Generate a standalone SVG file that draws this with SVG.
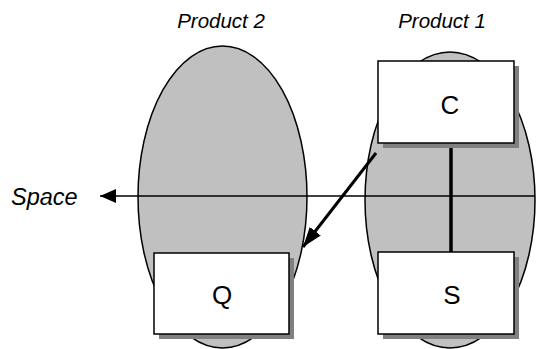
<svg xmlns="http://www.w3.org/2000/svg" width="536" height="349" viewBox="0 0 536 349">
  <style>
    .blob { fill: #c0c0c0; stroke: #000; stroke-width: 1.5; }
    .box { fill: #fff; stroke: #000; stroke-width: 1.5; }
    .shadow { fill: #808080; }
    .label { font-family: "Liberation Sans", Arial, sans-serif; fill: #000; }
    .cap { font-style: italic; font-size: 20.5px; text-anchor: middle; }
    .big { font-size: 26px; text-anchor: middle; }
    .wire { stroke: #000; fill: none; }
  </style>
  <defs>
    <marker id="head" viewBox="0 0 20 14" refX="20" refY="7" markerWidth="20" markerHeight="14" markerUnits="userSpaceOnUse" orient="auto">
      <path d="M0,0 L20,7 L0,14 Z" fill="#000"/>
    </marker>
    <marker id="headSmall" viewBox="0 0 16 14" refX="16" refY="7" markerWidth="16" markerHeight="14" markerUnits="userSpaceOnUse" orient="auto">
      <path d="M0,0 L16,7 L0,14 Z" fill="#000"/>
    </marker>
  </defs>

  <rect width="536" height="349" fill="#fff"/>

  <!-- product regions -->
  <g id="product2">
    <ellipse class="blob" cx="222.5" cy="197" rx="84.5" ry="151"/>
    <text class="label cap" x="221" y="28">Product 2</text>
  </g>
  <g id="product1">
    <ellipse class="blob" cx="450" cy="200" rx="85" ry="148"/>
    <text class="label cap" x="442" y="28">Product 1</text>
  </g>

  <!-- connectors -->
  <g id="connectors">
    <line class="wire" x1="535" y1="196" x2="100" y2="196" stroke-width="1.5" marker-end="url(#headSmall)"/>
    <line class="wire" x1="451" y1="143" x2="451" y2="252" stroke-width="3.5"/>
    <line class="wire" x1="376" y1="153" x2="303" y2="247" stroke-width="3" marker-end="url(#head)"/>
  </g>

  <text id="space" class="label" x="11" y="205" font-size="23.5" font-style="italic">Space</text>

  <!-- nodes -->
  <g id="C">
    <rect class="shadow" x="383" y="66" width="136" height="82"/>
    <rect class="box" x="378" y="61" width="136" height="82"/>
    <text class="label big" x="450" y="114">C</text>
  </g>
  <g id="Q">
    <rect class="shadow" x="159" y="258" width="135" height="81"/>
    <rect class="box" x="154" y="253" width="135" height="81"/>
    <text class="label big" x="222" y="304">Q</text>
  </g>
  <g id="S">
    <rect class="shadow" x="383" y="257" width="136" height="82"/>
    <rect class="box" x="378" y="252" width="136" height="82"/>
    <text class="label big" x="452" y="304">S</text>
  </g>
</svg>
